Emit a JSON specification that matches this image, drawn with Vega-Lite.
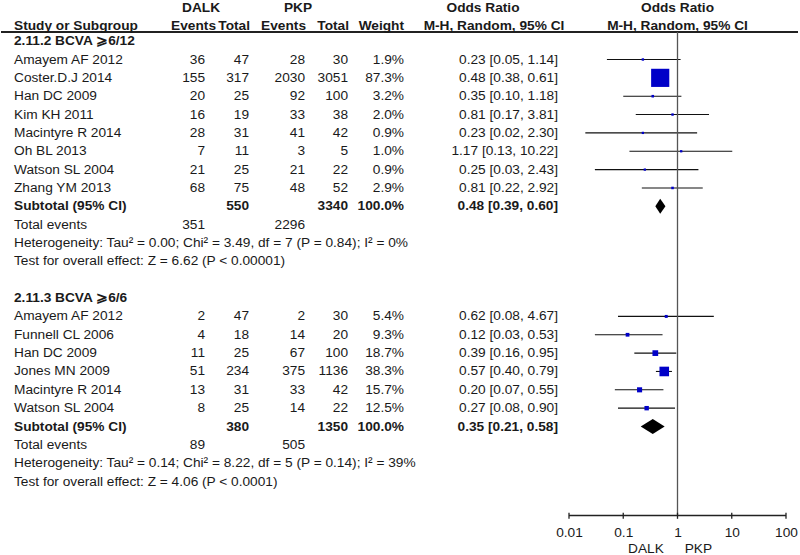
{
  "$schema": "https://vega.github.io/schema/vega-lite/v6.json",
  "padding": 0,
  "bounds": "flush",
  "spacing": 0,
  "config": {
    "view": {"stroke": null},
    "text": {"font": "Liberation Sans", "fontSize": 13.7, "color": "#1a1a1a"},
    "axis": {"labelFont": "Liberation Sans"}
  },
  "datasets": {
    "tbl": [
      {"kind": "group", "row": 0, "label": "2.11.2 BCVA ⩾6/12"},
      {"kind": "study", "row": 1, "label": "Amayem AF 2012", "e1": 36, "t1": 47, "e2": 28, "t2": 30, "w": 0.019, "or": 0.23, "lo": 0.05, "hi": 1.14, "ci": "0.23 [0.05, 1.14]"},
      {"kind": "study", "row": 2, "label": "Coster.D.J 2014", "e1": 155, "t1": 317, "e2": 2030, "t2": 3051, "w": 0.873, "or": 0.48, "lo": 0.38, "hi": 0.61, "ci": "0.48 [0.38, 0.61]"},
      {"kind": "study", "row": 3, "label": "Han DC 2009", "e1": 20, "t1": 25, "e2": 92, "t2": 100, "w": 0.032, "or": 0.35, "lo": 0.10, "hi": 1.18, "ci": "0.35 [0.10, 1.18]"},
      {"kind": "study", "row": 4, "label": "Kim KH 2011", "e1": 16, "t1": 19, "e2": 33, "t2": 38, "w": 0.020, "or": 0.81, "lo": 0.17, "hi": 3.81, "ci": "0.81 [0.17, 3.81]"},
      {"kind": "study", "row": 5, "label": "Macintyre R 2014", "e1": 28, "t1": 31, "e2": 41, "t2": 42, "w": 0.009, "or": 0.23, "lo": 0.02, "hi": 2.30, "ci": "0.23 [0.02, 2.30]"},
      {"kind": "study", "row": 6, "label": "Oh BL 2013", "e1": 7, "t1": 11, "e2": 3, "t2": 5, "w": 0.010, "or": 1.17, "lo": 0.13, "hi": 10.22, "ci": "1.17 [0.13, 10.22]"},
      {"kind": "study", "row": 7, "label": "Watson SL 2004", "e1": 21, "t1": 25, "e2": 21, "t2": 22, "w": 0.009, "or": 0.25, "lo": 0.03, "hi": 2.43, "ci": "0.25 [0.03, 2.43]"},
      {"kind": "study", "row": 8, "label": "Zhang YM 2013", "e1": 68, "t1": 75, "e2": 48, "t2": 52, "w": 0.029, "or": 0.81, "lo": 0.22, "hi": 2.92, "ci": "0.81 [0.22, 2.92]"},
      {"kind": "subtotal", "row": 9, "label": "Subtotal (95% CI)", "t1": 550, "t2": 3340, "w": 1.0, "or": 0.48, "lo": 0.39, "hi": 0.60, "ci": "0.48 [0.39, 0.60]"},
      {"kind": "total", "row": 10, "label": "Total events", "e1": 351, "e2": 2296},
      {"kind": "note", "row": 11, "label": "Heterogeneity: Tau² = 0.00; Chi² = 3.49, df = 7 (P = 0.84); I² = 0%"},
      {"kind": "note", "row": 12, "label": "Test for overall effect: Z = 6.62 (P < 0.00001)"},
      {"kind": "group", "row": 14, "label": "2.11.3 BCVA ⩾6/6"},
      {"kind": "study", "row": 15, "label": "Amayem AF 2012", "e1": 2, "t1": 47, "e2": 2, "t2": 30, "w": 0.054, "or": 0.62, "lo": 0.08, "hi": 4.67, "ci": "0.62 [0.08, 4.67]"},
      {"kind": "study", "row": 16, "label": "Funnell CL 2006", "e1": 4, "t1": 18, "e2": 14, "t2": 20, "w": 0.093, "or": 0.12, "lo": 0.03, "hi": 0.53, "ci": "0.12 [0.03, 0.53]"},
      {"kind": "study", "row": 17, "label": "Han DC 2009", "e1": 11, "t1": 25, "e2": 67, "t2": 100, "w": 0.187, "or": 0.39, "lo": 0.16, "hi": 0.95, "ci": "0.39 [0.16, 0.95]"},
      {"kind": "study", "row": 18, "label": "Jones MN 2009", "e1": 51, "t1": 234, "e2": 375, "t2": 1136, "w": 0.383, "or": 0.57, "lo": 0.40, "hi": 0.79, "ci": "0.57 [0.40, 0.79]"},
      {"kind": "study", "row": 19, "label": "Macintyre R 2014", "e1": 13, "t1": 31, "e2": 33, "t2": 42, "w": 0.157, "or": 0.20, "lo": 0.07, "hi": 0.55, "ci": "0.20 [0.07, 0.55]"},
      {"kind": "study", "row": 20, "label": "Watson SL 2004", "e1": 8, "t1": 25, "e2": 14, "t2": 22, "w": 0.125, "or": 0.27, "lo": 0.08, "hi": 0.90, "ci": "0.27 [0.08, 0.90]"},
      {"kind": "subtotal", "row": 21, "label": "Subtotal (95% CI)", "t1": 380, "t2": 1350, "w": 1.0, "or": 0.35, "lo": 0.21, "hi": 0.58, "ci": "0.35 [0.21, 0.58]"},
      {"kind": "total", "row": 22, "label": "Total events", "e1": 89, "e2": 505},
      {"kind": "note", "row": 23, "label": "Heterogeneity: Tau² = 0.14; Chi² = 8.22, df = 5 (P = 0.14); I² = 39%"},
      {"kind": "note", "row": 24, "label": "Test for overall effect: Z = 4.06 (P < 0.0001)"}
    ],
    "ticks": [{"v": 0.01}, {"v": 0.1}, {"v": 1}, {"v": 10}, {"v": 100}]
  },
  "data": {"name": "tbl"},
  "hconcat": [
    {
      "width": 568,
      "height": 516,
      "layer": [
        {
          "mark": {"type": "rule", "color": "#222", "strokeWidth": 1.3},
          "encoding": {"y": {"datum": -0.5, "type": "quantitative", "scale": {"domain": [-2.2425, 25.876], "reverse": true, "nice": false, "zero": false}, "axis": null}}
        },
        {
          "mark": {"type": "text", "align": "left", "fontWeight": {"expr": "datum.kind === 'subtotal' || datum.kind === 'group' ? 'bold' : 'normal'"}},
          "encoding": {
            "x": {"datum": 13, "type": "quantitative", "scale": {"domain": [0, 568]}, "axis": null},
            "y": {"field": "row", "type": "quantitative", "scale": {"domain": [-2.2425, 25.876], "reverse": true, "nice": false, "zero": false}, "axis": null},
            "text": {"field": "label"}
          }
        },
        {
          "transform": [{"filter": "isValid(datum.e1)"}],
          "mark": {"type": "text", "align": "right"},
          "encoding": {
            "x": {"datum": 204, "type": "quantitative", "scale": {"domain": [0, 568]}, "axis": null},
            "y": {"field": "row", "type": "quantitative", "scale": {"domain": [-2.2425, 25.876], "reverse": true, "nice": false, "zero": false}, "axis": null},
            "text": {"field": "e1"}
          }
        },
        {
          "transform": [{"filter": "isValid(datum.t1)"}],
          "mark": {"type": "text", "align": "right", "fontWeight": {"expr": "datum.kind === 'subtotal' ? 'bold' : 'normal'"}},
          "encoding": {
            "x": {"datum": 248, "type": "quantitative", "scale": {"domain": [0, 568]}, "axis": null},
            "y": {"field": "row", "type": "quantitative", "scale": {"domain": [-2.2425, 25.876], "reverse": true, "nice": false, "zero": false}, "axis": null},
            "text": {"field": "t1"}
          }
        },
        {
          "transform": [{"filter": "isValid(datum.e2)"}],
          "mark": {"type": "text", "align": "right"},
          "encoding": {
            "x": {"datum": 304, "type": "quantitative", "scale": {"domain": [0, 568]}, "axis": null},
            "y": {"field": "row", "type": "quantitative", "scale": {"domain": [-2.2425, 25.876], "reverse": true, "nice": false, "zero": false}, "axis": null},
            "text": {"field": "e2"}
          }
        },
        {
          "transform": [{"filter": "isValid(datum.t2)"}],
          "mark": {"type": "text", "align": "right", "fontWeight": {"expr": "datum.kind === 'subtotal' ? 'bold' : 'normal'"}},
          "encoding": {
            "x": {"datum": 347, "type": "quantitative", "scale": {"domain": [0, 568]}, "axis": null},
            "y": {"field": "row", "type": "quantitative", "scale": {"domain": [-2.2425, 25.876], "reverse": true, "nice": false, "zero": false}, "axis": null},
            "text": {"field": "t2"}
          }
        },
        {
          "transform": [{"filter": "isValid(datum.w)"}],
          "mark": {"type": "text", "align": "right", "fontWeight": {"expr": "datum.kind === 'subtotal' ? 'bold' : 'normal'"}},
          "encoding": {
            "x": {"datum": 403, "type": "quantitative", "scale": {"domain": [0, 568]}, "axis": null},
            "y": {"field": "row", "type": "quantitative", "scale": {"domain": [-2.2425, 25.876], "reverse": true, "nice": false, "zero": false}, "axis": null},
            "text": {"field": "w", "type": "quantitative", "format": ".1%"}
          }
        },
        {
          "transform": [{"filter": "isValid(datum.ci)"}],
          "mark": {"type": "text", "align": "right", "fontWeight": {"expr": "datum.kind === 'subtotal' ? 'bold' : 'normal'"}},
          "encoding": {
            "x": {"datum": 557, "type": "quantitative", "scale": {"domain": [0, 568]}, "axis": null},
            "y": {"field": "row", "type": "quantitative", "scale": {"domain": [-2.2425, 25.876], "reverse": true, "nice": false, "zero": false}, "axis": null},
            "text": {"field": "ci"}
          }
        },
        {
          "data": {"values": [{"t": "DALK", "p": 200, "r": -1.83}, {"t": "PKP", "p": 297, "r": -1.83}, {"t": "Odds Ratio", "p": 482, "r": -1.83}, {"t": "M-H, Random, 95% CI", "p": 493, "r": -0.84}]},
          "mark": {"type": "text", "align": "center", "fontWeight": "bold"},
          "encoding": {
            "x": {"field": "p", "type": "quantitative", "scale": {"domain": [0, 568]}, "axis": null},
            "y": {"field": "r", "type": "quantitative", "scale": {"domain": [-2.2425, 25.876], "reverse": true, "nice": false, "zero": false}, "axis": null},
            "text": {"field": "t"}
          }
        },
        {
          "data": {"values": [{"t": "Study or Subgroup"}]},
          "mark": {"type": "text", "align": "left", "fontWeight": "bold"},
          "encoding": {
            "x": {"datum": 13, "type": "quantitative", "scale": {"domain": [0, 568]}, "axis": null},
            "y": {"datum": -0.84, "type": "quantitative", "scale": {"domain": [-2.2425, 25.876], "reverse": true, "nice": false, "zero": false}, "axis": null},
            "text": {"field": "t"}
          }
        },
        {
          "data": {"values": [{"t": "Events", "p": 215}, {"t": "Total", "p": 249}, {"t": "Events", "p": 305}, {"t": "Total", "p": 348}, {"t": "Weight", "p": 403}]},
          "mark": {"type": "text", "align": "right", "fontWeight": "bold"},
          "encoding": {
            "x": {"field": "p", "type": "quantitative", "scale": {"domain": [0, 568]}, "axis": null},
            "y": {"datum": -0.84, "type": "quantitative", "scale": {"domain": [-2.2425, 25.876], "reverse": true, "nice": false, "zero": false}, "axis": null},
            "text": {"field": "t"}
          }
        }
      ]
    },
    {
      "width": 229,
      "height": 516,
      "layer": [
        {
          "mark": {"type": "rule", "color": "#222", "strokeWidth": 1.3},
          "encoding": {"y": {"datum": -0.5, "type": "quantitative", "scale": {"domain": [-2.2425, 25.876], "reverse": true, "nice": false, "zero": false}, "axis": null}}
        },
        {
          "transform": [{"filter": "datum.kind === 'study'"}],
          "mark": {"type": "rule", "color": "#111", "strokeWidth": 1.1},
          "encoding": {
            "x": {"field": "lo", "type": "quantitative", "scale": {"type": "log", "domain": [0.01, 100], "range": [0, 217], "nice": false}, "axis": {"values": [0.01, 0.1, 1, 10, 100], "format": "~g", "title": null, "grid": false, "domain": false, "ticks": false, "labels": true, "labelFontSize": 13.7, "labelColor": "#1a1a1a", "labelPadding": 9, "labelFlush": false, "labelOverlap": false}},
            "x2": {"field": "hi"},
            "y": {"field": "row", "type": "quantitative", "scale": {"domain": [-2.2425, 25.876], "reverse": true, "nice": false, "zero": false}, "axis": null}
          }
        },
        {
          "data": {"values": [{"v": 1}]},
          "mark": {"type": "rule", "color": "#555", "strokeWidth": 1.3},
          "encoding": {
            "x": {"field": "v", "type": "quantitative", "scale": {"type": "log", "domain": [0.01, 100], "range": [0, 217], "nice": false}},
            "y": {"datum": -0.5, "type": "quantitative", "scale": {"domain": [-2.2425, 25.876], "reverse": true, "nice": false, "zero": false}, "axis": null},
            "y2": {"datum": 25.85}
          }
        },
        {
          "data": {"name": "ticks"},
          "mark": {"type": "rule", "color": "#222", "strokeWidth": 1.3},
          "encoding": {
            "x": {"field": "v", "type": "quantitative", "scale": {"type": "log", "domain": [0.01, 100], "range": [0, 217], "nice": false}},
            "y": {"datum": 25.7, "type": "quantitative", "scale": {"domain": [-2.2425, 25.876], "reverse": true, "nice": false, "zero": false}, "axis": null},
            "y2": {"datum": 26.03}
          }
        },
        {
          "data": {"values": [{"a": 0.01, "b": 100}]},
          "mark": {"type": "rule", "color": "#222", "strokeWidth": 1.3},
          "encoding": {
            "x": {"field": "a", "type": "quantitative", "scale": {"type": "log", "domain": [0.01, 100], "range": [0, 217], "nice": false}},
            "x2": {"field": "b"},
            "y": {"datum": 25.85, "type": "quantitative", "scale": {"domain": [-2.2425, 25.876], "reverse": true, "nice": false, "zero": false}, "axis": null}
          }
        },
        {
          "transform": [{"filter": "datum.kind === 'study'"}],
          "mark": {"type": "point", "shape": "square", "filled": true, "color": "#0000C8", "opacity": 1},
          "encoding": {
            "x": {"field": "or", "type": "quantitative", "scale": {"type": "log", "domain": [0.01, 100], "range": [0, 217], "nice": false}},
            "y": {"field": "row", "type": "quantitative", "scale": {"domain": [-2.2425, 25.876], "reverse": true, "nice": false, "zero": false}, "axis": null},
            "size": {"field": "w", "type": "quantitative", "scale": {"type": "pow", "exponent": 1.6, "domain": [0, 0.873], "range": [5, 330]}, "legend": null}
          }
        },
        {
          "transform": [{"filter": "datum.kind === 'subtotal'"}, {"fold": ["lo", "or", "hi"], "as": ["k", "v"]}],
          "mark": {"type": "area", "color": "#000", "opacity": 1, "yOffset": {"expr": "datum.k === 'or' ? -7.5 : 0"}, "y2Offset": {"expr": "datum.k === 'or' ? 7.5 : 0"}},
          "encoding": {
            "x": {"field": "v", "type": "quantitative", "scale": {"type": "log", "domain": [0.01, 100], "range": [0, 217], "nice": false}},
            "y": {"field": "row", "type": "quantitative", "scale": {"domain": [-2.2425, 25.876], "reverse": true, "nice": false, "zero": false}, "axis": null},
            "y2": {"field": "row"},
            "detail": {"field": "row", "type": "nominal"}
          }
        },
        {
          "data": {"values": [{"t": "Odds Ratio", "r": -1.83, "v": 1}, {"t": "M-H, Random, 95% CI", "r": -0.84, "v": 1}]},
          "mark": {"type": "text", "align": "center", "fontWeight": "bold"},
          "encoding": {
            "x": {"field": "v", "type": "quantitative", "scale": {"type": "log", "domain": [0.01, 100], "range": [0, 217], "nice": false}},
            "y": {"field": "r", "type": "quantitative", "scale": {"domain": [-2.2425, 25.876], "reverse": true, "nice": false, "zero": false}, "axis": null},
            "text": {"field": "t"}
          }
        },
        {
          "data": {"values": [{"t": "DALK", "v": 0.56}]},
          "mark": {"type": "text", "align": "right"},
          "encoding": {
            "x": {"field": "v", "type": "quantitative", "scale": {"type": "log", "domain": [0.01, 100], "range": [0, 217], "nice": false}},
            "y": {"datum": 27.675, "type": "quantitative", "scale": {"domain": [-2.2425, 25.876], "reverse": true, "nice": false, "zero": false}, "axis": null},
            "text": {"field": "t"}
          }
        },
        {
          "data": {"values": [{"t": "PKP", "v": 1.36}]},
          "mark": {"type": "text", "align": "left"},
          "encoding": {
            "x": {"field": "v", "type": "quantitative", "scale": {"type": "log", "domain": [0.01, 100], "range": [0, 217], "nice": false}},
            "y": {"datum": 27.675, "type": "quantitative", "scale": {"domain": [-2.2425, 25.876], "reverse": true, "nice": false, "zero": false}, "axis": null},
            "text": {"field": "t"}
          }
        }
      ]
    }
  ]
}
